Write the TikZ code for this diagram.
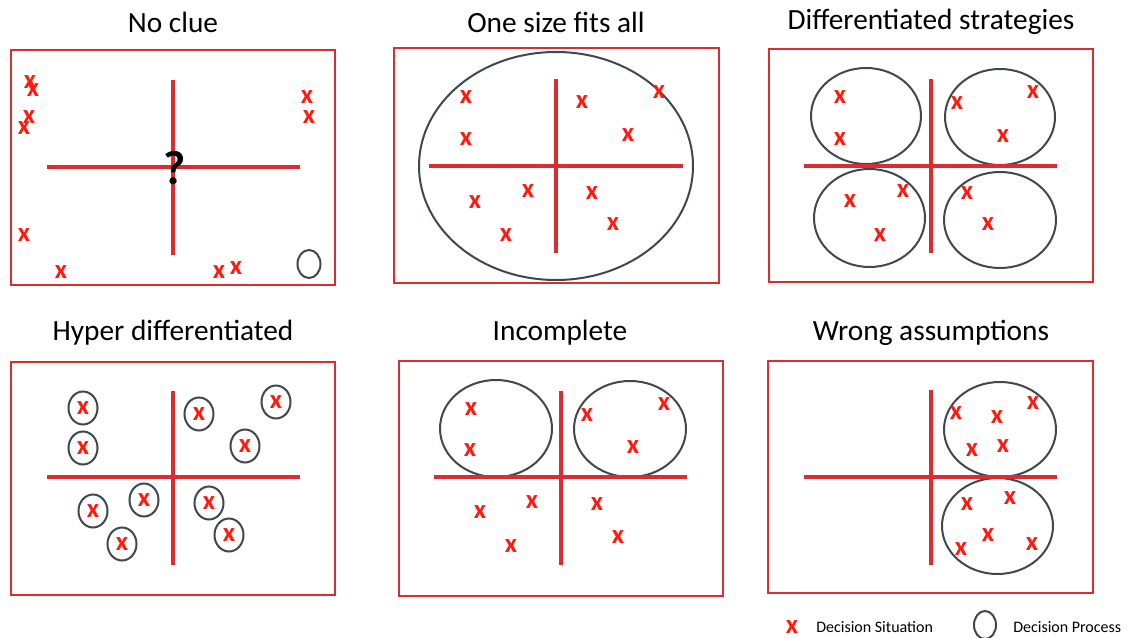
\documentclass[tikz,border=0pt]{standalone}
\usepackage{fontspec}
\setmainfont{Carlito}
\definecolor{redline}{RGB}{218,45,50}
\definecolor{xred}{RGB}{255,25,15}
\definecolor{grayline}{RGB}{62,72,80}
\tikzset{
  frame/.style={draw=redline,line width=2pt},
  axis/.style={draw=redline,line width=2.5pt},
  proc/.style={draw=grayline,line width=1.5pt},
  xm/.style={text=xred,font=\fontsize{20}{20}\selectfont\bfseries,inner sep=0pt},
  ttl/.style={font=\fontsize{22}{24}\selectfont,text=black,inner sep=0pt},
  lgd/.style={font=\fontsize{12}{14}\selectfont,text=black,inner sep=0pt,anchor=west},
}
\begin{document}
\begin{tikzpicture}[x=0.75pt,y=-0.75pt]
\useasboundingbox (0,0) rectangle (1132,638);
\fill[white] (0,0) rectangle (1132,638);
% ---------- titles
\node[ttl] (t1) at (173,22) {No clue};
\node[ttl] (t2) at (556,22) {One size fits all};
\node[ttl] (t3) at (931,22) {Differentiated strategies};
\node[ttl] (t4) at (173,333) {Hyper differentiated};
\node[ttl] (t5) at (560,333) {Incomplete};
\node[ttl] (t6) at (931,333) {Wrong assumptions};
% ---------- panel 1: No clue
\draw[frame] (11,50) rectangle (335,285);
\draw[axis] (47,167) -- (300,167);
\draw[axis] (173,80) -- (173,255);
\node[font=\fontsize{36}{36}\selectfont\bfseries,inner sep=0pt] (q) at (175,168) {?};
\foreach \a/\b [count=\i] in {30/82,33/90,29/117,24/128,307/97,309/117,24/235,61/272,219/272,236/268}
  \node[xm] (pa\i) at (\a,\b) {x};
\draw[proc] (309,264) ellipse [x radius=11.5,y radius=14];
% ---------- panel 2: One size fits all
\draw[frame] (394,48) rectangle (719,283);
\draw[proc] (556,166) ellipse [x radius=137,y radius=114];
\draw[axis] (429,166) -- (683,166);
\draw[axis] (556,79) -- (556,253);
\foreach \a/\b [count=\i] in {466/97,466/139,582/102,659/92,628/135,475/202,528/191,592/193,613/224,506/235}
  \node[xm] (pb\i) at (\a,\b) {x};
% ---------- panel 3: Differentiated strategies
\draw[frame] (769,49) rectangle (1093,282);
\draw[proc] (866,116) ellipse [x radius=55,y radius=48];
\draw[proc] (1000,117) ellipse [x radius=55,y radius=48];
\draw[proc] (869.5,218) ellipse [x radius=55.5,y radius=49];
\draw[proc] (1000,220) ellipse [x radius=56,y radius=48];
\draw[axis] (804,166) -- (1057,166);
\draw[axis] (931,79) -- (931,253);
\foreach \a/\b [count=\i] in {840/97,840/139,957/103,1033/92,1003/136,850/201,903/191,880/235,967/193,988/224}
  \node[xm] (pc\i) at (\a,\b) {x};
% ---------- panel 4: Hyper differentiated
\draw[frame] (11,362) rectangle (335,595);
\draw[axis] (47,477) -- (300,477);
\draw[axis] (173,391) -- (173,565);
\foreach \a/\b [count=\i] in {83/408,83/448,199/414,276/402,245/446,93/511,144/500,122/544,209/503,229/535}{
  \draw[proc] (\a,\b) ellipse [x radius=14.5,y radius=16.5];
  \node[xm] (pd\i) at (\a,\b) {x};
}
% ---------- panel 5: Incomplete
\draw[frame] (399,361) rectangle (723,596);
\draw[proc] (496,428.5) ellipse [x radius=56,y radius=48.5];
\draw[proc] (630,429) ellipse [x radius=56,y radius=48];
\draw[axis] (434,477) -- (687,477);
\draw[axis] (561,391) -- (561,565);
\foreach \a/\b [count=\i] in {471/409,470/450,587/415,664/404,633/447,480/512,532/502,511/546,597/504,618/537}
  \node[xm] (pe\i) at (\a,\b) {x};
% ---------- panel 6: Wrong assumptions
\draw[frame] (768,361) rectangle (1093,593);
\draw[proc] (1000,429.5) ellipse [x radius=56,y radius=47.5];
\draw[proc] (997.5,526) ellipse [x radius=55.5,y radius=48];
\draw[axis] (804,477) -- (1057,477);
\draw[axis] (931,390) -- (931,565);
\foreach \a/\b [count=\i] in {956/413,997/417,1033/403,972/450,1003/446,967/504,1010/498,988/535,961/549,1032/544}
  \node[xm] (pf\i) at (\a,\b) {x};
% ---------- legend
\node[xm] (lx) at (792,627) {x};
\node[lgd] (ls) at (816,627) {Decision Situation};
\draw[proc] (985,625) ellipse [x radius=11,y radius=14];
\node[lgd] (lp) at (1013,627) {Decision Process};
\end{tikzpicture}
\end{document}
